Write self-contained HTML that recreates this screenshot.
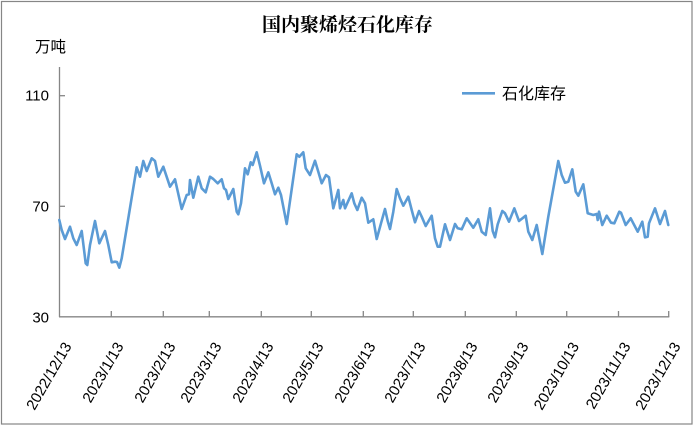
<!DOCTYPE html>
<html>
<head>
<meta charset="utf-8">
<style>
  html, body { margin:0; padding:0; background:#fff; }
  svg { display:block; }
</style>
</head>
<body>
<svg width="693" height="426" viewBox="0 0 693 426" xmlns="http://www.w3.org/2000/svg">
  <rect x="0" y="0" width="693" height="426" fill="#fff"/>
  <rect x="1.5" y="1.5" width="690.5" height="422.5" fill="none" stroke="#868686" stroke-width="1.2"/>

  <!-- Title -->
  <text x="347.5" y="31" text-anchor="middle" font-family="'Liberation Serif','Noto Serif CJK SC',serif" font-weight="bold" font-size="19" fill="#000">国内聚烯烃石化库存</text>

  <!-- unit -->
  <text x="35" y="52" font-family="'Liberation Sans','Noto Sans CJK SC',sans-serif" font-size="15.5" fill="#000">万吨</text>

  <!-- axes -->
  <g stroke="#868686" stroke-width="1.3" fill="none">
    <line x1="59.5" y1="67" x2="59.5" y2="317"/>
    <line x1="59" y1="316.8" x2="669.3" y2="316.8"/>
    <!-- y ticks -->
    <line x1="59.5" y1="95.7" x2="65" y2="95.7"/>
    <line x1="59.5" y1="206.3" x2="65" y2="206.3"/>
    <!-- x ticks -->
    <line x1="111.3" y1="311" x2="111.3" y2="317"/>
    <line x1="163.3" y1="311" x2="163.3" y2="317"/>
    <line x1="209.3" y1="311" x2="209.3" y2="317"/>
    <line x1="261.3" y1="311" x2="261.3" y2="317"/>
    <line x1="311.3" y1="311" x2="311.3" y2="317"/>
    <line x1="363.3" y1="311" x2="363.3" y2="317"/>
    <line x1="413.3" y1="311" x2="413.3" y2="317"/>
    <line x1="465.3" y1="311" x2="465.3" y2="317"/>
    <line x1="516.3" y1="311" x2="516.3" y2="317"/>
    <line x1="566.7" y1="311" x2="566.7" y2="317"/>
    <line x1="618.5" y1="311" x2="618.5" y2="317"/>
    <line x1="668.7" y1="311" x2="668.7" y2="317"/>
  </g>

  <!-- y labels -->
  <g font-family="'Liberation Sans',sans-serif" font-size="15" fill="#000" text-anchor="end">
    <text x="49" y="100.5">110</text>
    <text x="49" y="211.5">70</text>
    <text x="49" y="322.5">30</text>
  </g>

  <!-- x labels -->
  <g font-family="'Liberation Sans',sans-serif" font-size="15" fill="#000" text-anchor="end">
    <text transform="translate(72,346) rotate(-60)">2022/12/13</text>
    <text transform="translate(124,346) rotate(-60)">2023/1/13</text>
    <text transform="translate(176,346) rotate(-60)">2023/2/13</text>
    <text transform="translate(222,346) rotate(-60)">2023/3/13</text>
    <text transform="translate(274,346) rotate(-60)">2023/4/13</text>
    <text transform="translate(324,346) rotate(-60)">2023/5/13</text>
    <text transform="translate(376,346) rotate(-60)">2023/6/13</text>
    <text transform="translate(426,346) rotate(-60)">2023/7/13</text>
    <text transform="translate(478,346) rotate(-60)">2023/8/13</text>
    <text transform="translate(529,346) rotate(-60)">2023/9/13</text>
    <text transform="translate(579.5,346) rotate(-60)">2023/10/13</text>
    <text transform="translate(631,346) rotate(-60)">2023/11/13</text>
    <text transform="translate(681,346) rotate(-60)">2023/12/13</text>
  </g>

  <!-- legend -->
  <line x1="462" y1="93.3" x2="495" y2="93.3" stroke="#5b9bd5" stroke-width="2.6"/>
  <text x="502" y="99" font-family="'Liberation Sans','Noto Sans CJK SC',sans-serif" font-size="16" fill="#000">石化库存</text>

  <!-- series -->
  <polyline fill="none" stroke="#5b9bd5" stroke-width="2.6" stroke-linejoin="round" stroke-linecap="round"
    points="59.3,220 61.7,230 65,239 70,226.7 73.3,238.3 76.7,245 81.7,231 85.7,263.3 87.3,265 90,245 95,221 99.3,243.3 105,231 108.3,245 111.7,262.3 115,261.7 117,262 119.3,267.7 121.7,258.3 136.7,167.3 140,176.7 143.3,161 146.7,171 151.7,158.3 155,161 158.3,176.7 163.3,166.7 170,186.7 175,179.3 181.7,209 186.7,195 189,194.3 190,180 193.3,197.7 198.3,176.7 201.7,188.3 205.7,192.3 210,176.7 213.3,179 217.7,183.3 221.7,179.3 224,188.3 226,190 228.3,199 233.3,189 236.7,211.7 238.3,214.3 241,203.3 245,168.3 247.7,174.3 250.7,162.3 252.7,165 256.7,152.3 260,165.7 264,183.3 268.3,172.3 271.7,183.3 275,194.3 278.3,187.7 281,195 286.7,224 296.7,154.3 299.3,156.7 303.3,152.3 305.7,168.3 310,175 315,160.7 318.3,171.7 321.7,183.3 326,175 329,177.3 333.3,208.3 338.3,190 340,208.3 343.3,200 345,208.3 351.7,193.3 354.3,203.3 357.3,210 361.7,197.7 365,203.3 368.3,222.7 373.3,219.3 376.7,239 381,223.3 385,209 387.7,221 390,229 393.3,211.7 396.7,189 400,198.3 403.3,205.7 408.3,196.7 411.7,210 415,222.3 419,211 421.7,216.7 425.7,226 431.7,215.7 435,238.3 437.7,246.7 440,246.7 445,224.3 450,240 455,224 457.7,228.3 461.7,229.3 466.7,218.3 473.3,227.7 478.3,219.3 481.7,231.7 485.7,235 490,208.3 492.7,231 495,237.3 497.7,224.3 502.3,211 505,213.3 509,221.7 514.3,208.3 519,221 525.7,215.7 528.3,231.7 532.3,240 536.7,225 542.3,254 548.3,216.7 558.3,161 561.7,175 565,182.7 568.3,181.7 572.3,169.3 575.7,191.7 578.3,195.7 583.3,184.3 587.7,213.3 593.3,215 596.7,214 597.7,220 599,211.7 602.3,225 606.7,215.7 611,222.7 614.3,223.3 619.3,211.7 621,212.7 625.7,225 630.7,218.3 633.3,223.3 637.7,231.7 642.3,221.7 645,237.3 647.7,236.7 649,223.3 655,208.3 660,224 665,211 668.3,225"/>
</svg>
</body>
</html>
